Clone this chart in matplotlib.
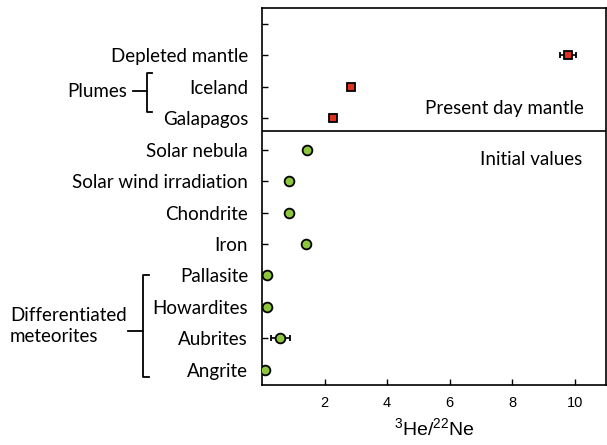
import matplotlib
matplotlib.use("Agg")
import matplotlib.pyplot as plt
import matplotlib.transforms as mtransforms

# data
mantle_labels = ["Galapagos", "Iceland", "Depleted mantle"]
mantle_vals = [2.28, 2.85, 9.78]
mantle_err = [0.0, 0.0, 0.25]
mantle_pos = [8, 9, 10]

initial_labels = ["Angrite", "Aubrites", "Howardites", "Pallasite",
                  "Iron", "Chondrite", "Solar wind irradiation", "Solar nebula"]
initial_vals = [0.10, 0.58, 0.16, 0.16, 1.42, 0.87, 0.87, 1.45]
initial_err = [0.0, 0.30, 0.0, 0.0, 0.0, 0.0, 0.0, 0.0]
initial_pos = [0, 1, 2, 3, 4, 5, 6, 7]

xticks = [2, 4, 6, 8, 10]

txtfont = "Lato"
fs = 13.5
W, H = 607, 445
fig = plt.figure(figsize=(W / 100, H / 100), dpi=100)
ax = fig.add_axes([262 / W, 1 - 385 / H, (606 - 262) / W, (385 - 8) / H])

ax.errorbar(initial_vals, initial_pos, xerr=initial_err, fmt="o", color="black",
            mfc="#8cc63e", mec="black", mew=1.3, ms=7, capsize=2.5, elinewidth=1.2,
            zorder=3)
ax.errorbar(mantle_vals, mantle_pos, xerr=mantle_err, fmt="s", color="black",
            mfc="#e0301e", mec="black", mew=1.3, ms=6, capsize=2.5, elinewidth=1.2,
            zorder=3)

ax.axhline(7.6, color="black", lw=1.2)

ax.set_xlim(0, 11)
ax.set_ylim(-0.48, 11.5)
ax.set_xticks(xticks)
ax.set_xticklabels([str(t) for t in xticks], family="Liberation Sans", fontsize=10.5)

ypos = initial_pos + mantle_pos + [11]
ylabs = initial_labels + mantle_labels + [""]
ax.set_yticks(ypos)
ax.set_yticklabels(ylabs, family=txtfont, fontsize=fs)
ax.tick_params(axis="y", direction="in", length=4, width=1, pad=10)
ax.tick_params(axis="x", direction="in", length=4, width=1, pad=8)
for s in ax.spines.values():
    s.set_linewidth(1.2)

ax.set_xlabel(r"$\mathregular{^{3}He/^{22}Ne}$", family="Liberation Sans",
              fontsize=14, labelpad=5)

ax.text(0.936, 8.3, "Present day mantle", family=txtfont, fontsize=fs,
        ha="right", va="center", transform=ax.get_yaxis_transform())
ax.text(0.93, 6.7, "Initial values", family=txtfont, fontsize=fs,
        ha="right", va="center", transform=ax.get_yaxis_transform())

# brackets (x in figure pixels, y in data)
tr = mtransforms.blended_transform_factory(
    mtransforms.Affine2D().scale(1 / W, 1 / H) + fig.transFigure, ax.transData)


def bracket(x, y0, y1, ymid, stub_x0, hook):
    lkw = dict(color="black", lw=1.3, transform=tr, clip_on=False)
    ax.plot([x + hook, x, x, x + hook], [y1, y1, y0, y0], **lkw)
    ax.plot([stub_x0, x], [ymid, ymid], **lkw)


bracket(147, 8.2, 9.45, 8.85, 133, 5)
ax.text(127, 8.85, "Plumes", family=txtfont, fontsize=fs, ha="right",
        va="center", transform=tr)

bracket(143, -0.22, 3.03, 1.25, 128, 6)
ax.text(10, 1.4, "Differentiated\nmeteorites", family=txtfont, fontsize=fs,
        ha="left", va="center", transform=tr, linespacing=1.3)

fig.savefig("out.png", dpi=100)
